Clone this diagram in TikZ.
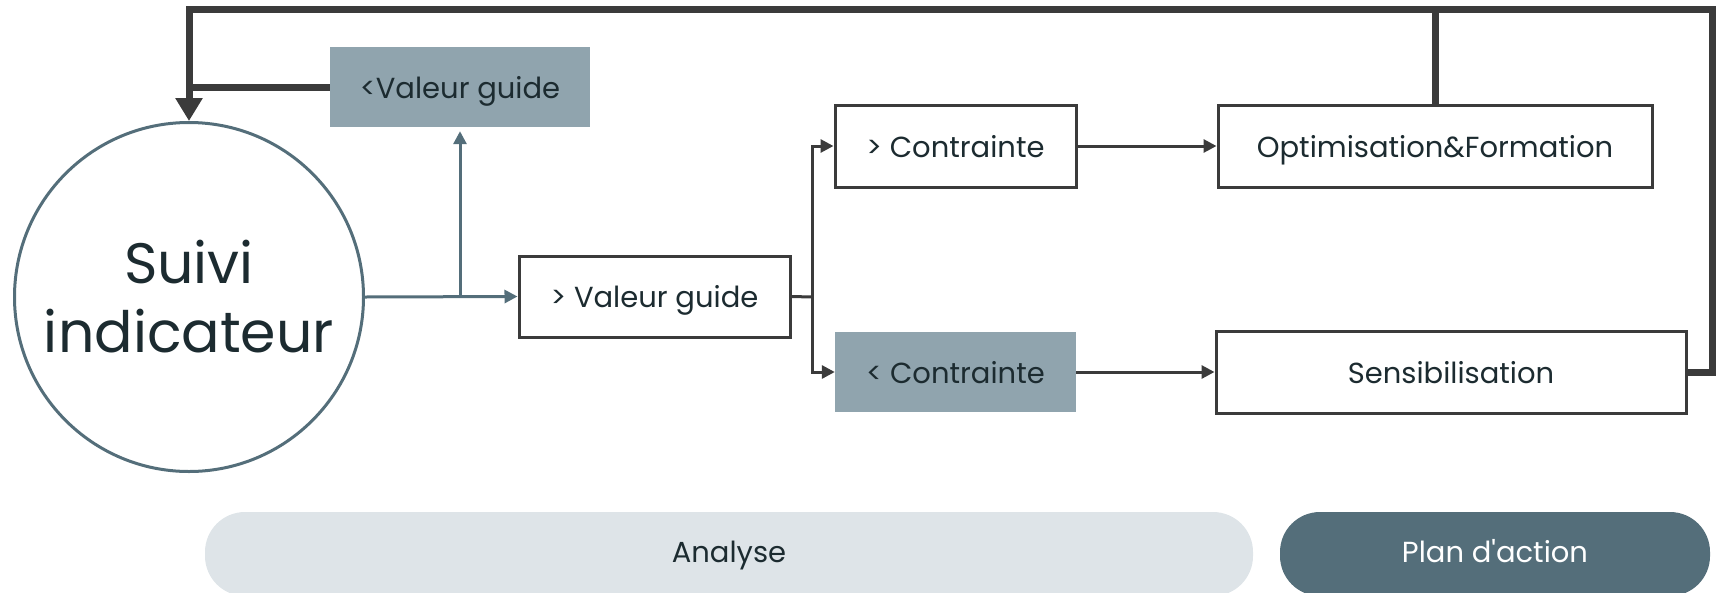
\documentclass[tikz,border=0pt]{standalone}
\usepackage{fontspec}
\setmainfont{Poppins}
\usetikzlibrary{arrows.meta,calc}
\definecolor{linedark}{HTML}{3B3B3B}
\definecolor{lineblue}{HTML}{546E7A}
\definecolor{boxfill}{HTML}{90A4AE}
\definecolor{pilllight}{HTML}{DEE4E8}
\definecolor{pilldark}{HTML}{546E7A}
\definecolor{txt}{HTML}{1C2B30}
\tikzset{
  boxtext/.style={text=txt, inner sep=0pt, text depth=0pt, text height=22pt, font=\fontsize{29}{33}\selectfont},
  boxw/.style={boxtext, draw=linedark, line width=3pt, fill=white},
  boxf/.style={boxtext, fill=boxfill},
  thinarrow/.style={draw=linedark, line width=3pt, -{Triangle[length=13pt,width=13pt]}},
  bluearrow/.style={draw=lineblue, line width=3pt, -{Triangle[length=13pt,width=13pt]}},
  thickline/.style={draw=linedark, line width=7pt},
  pill/.style={rounded corners=40pt, inner sep=0pt},
  pilltext/.style={inner sep=0pt, text depth=0pt, text height=22pt, font=\fontsize{29}{33}\selectfont},
}
\begin{document}
\begin{tikzpicture}[x=1pt,y=-1pt]
\useasboundingbox (0,0) rectangle (1723,592);
% nodes
\node[circle, draw=lineblue, line width=3pt, minimum size=349pt, inner sep=0pt, text=txt, align=center, font=\fontsize{57}{69}\selectfont] (circ) at (189,297) {Suivi\\indicateur};
\node[boxf, minimum width=260pt, minimum height=80pt] (vlow) at (460,87) {<Valeur guide};
\node[boxw, minimum width=271pt, minimum height=81pt] (vhigh) at (654.5,296.5) {> Valeur guide};
\node[boxw, minimum width=241pt, minimum height=82pt] (chigh) at (955.5,146) {> Contrainte};
\node[boxf, minimum width=241pt, minimum height=80pt] (clow) at (955.5,372) {< Contrainte};
\node[boxw, minimum width=434pt, minimum height=82pt] (optim) at (1435,146) {Optimisation\&Formation};
\node[boxw, minimum width=470pt, minimum height=82pt] (sens) at (1451,372) {Sensibilisation};
\node[pill, fill=pilllight, minimum width=1048pt, minimum height=84pt] (analyse) at (729,554) {};
\node[pilltext, text=txt] (analyselbl) at (729,551) {Analyse};
\node[pill, fill=pilldark, minimum width=430pt, minimum height=84pt] (plan) at (1495,554) {};
\node[pilltext, text=white] (planlbl) at (1495,551) {Plan d\textquotesingle action};
% coordinates
\coordinate (tr) at (1712,9);
\coordinate (br) at (812,297);
% thick feedback loop
\draw[thickline] (optim.north) -- (optim.north |- tr);
\draw[thickline] (vlow.west) -- (vlow.west -| circ.north);
\draw[thickline, -{Triangle[length=23pt,width=26pt]}] (sens.east) -| (tr) -| (circ.north);
% blue connectors
\draw[bluearrow] (circ.east) -- (vhigh.west);
\draw[bluearrow, shorten >=4pt] (vlow.south |- circ.east) -- (vlow.south);
% dark connectors
\draw[draw=linedark, line width=3pt] (vhigh.east) -- (br);
\draw[thinarrow] (br) |- (chigh.west);
\draw[thinarrow] (br) |- (clow.west);
\draw[thinarrow] (chigh) -- (optim);
\draw[thinarrow] (clow) -- (sens);
\end{tikzpicture}
\end{document}
